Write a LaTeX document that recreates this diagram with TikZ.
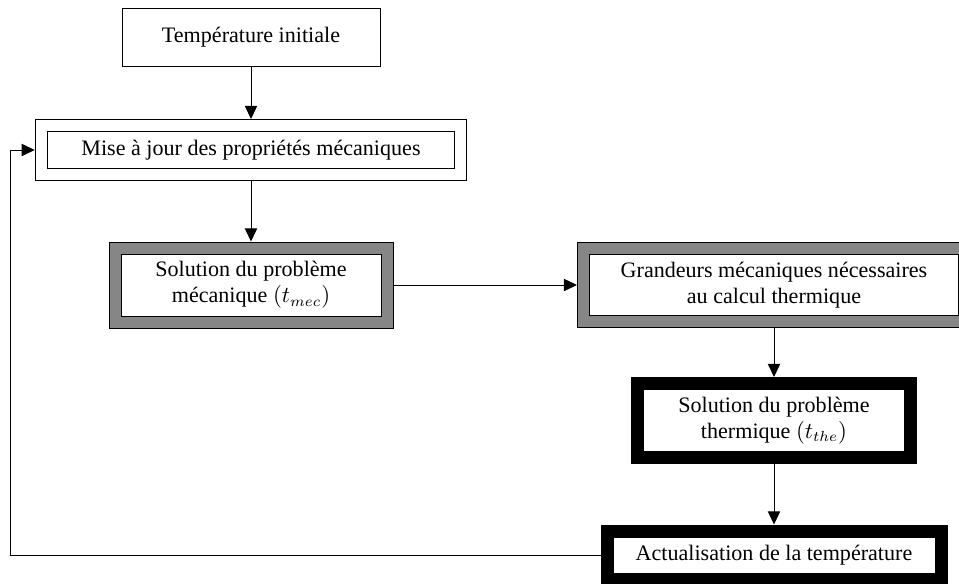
\documentclass[tikz,border=0pt]{standalone}
\usepackage{fontspec}
\setmainfont{Liberation Serif}
\usepackage{amsmath}
\usepackage{tikz}
\usetikzlibrary{
    positioning,
    arrows.meta,
}
\newdimen\px
\px=0.48pt
\tikzset{
    % Basic node styles
    step box/.style={rectangle, draw, line width=1\px, align=center,
                     font=\fontsize{10.6}{12.6}\selectfont, inner sep=0pt},
    plain box/.style={step box},
    white frame/.style={step box, double=white, double distance=11\px, outer sep=6.5\px},
    gray frame/.style={step box, double=gray!95, double distance=11\px, outer sep=6.5\px},
    black frame/.style={step box, double=black, double distance=11\px, outer sep=6.5\px},
    % Arrow styles
    arrow/.style={-{Triangle[length=6.3pt, width=5.9pt]}, line width=0.48pt},
}

\begin{document}
\begin{tikzpicture}[x=1\px, y=-1\px]
    \useasboundingbox (0,0) rectangle (959,584);
    \clip (0,0) rectangle (959,584);

    % Left column
    \node[plain box, minimum width=258\px, minimum height=58\px] (init) at (251, 37)
        {Température initiale};
    \node[white frame, minimum width=419.5\px, minimum height=49\px] (maj) at (251, 150)
        {Mise à jour des propriétés mécaniques};
    \node[gray frame, minimum width=272\px, minimum height=74\px] (meca) at (251, 285)
        {Solution du problème\\mécanique $(t_{mec})$};

    % Right column
    \node[gray frame, minimum width=381\px, minimum height=73\px] (grand) at (774, 285)
        {Grandeurs mécaniques nécessaires\\au calcul thermique};
    \node[black frame, minimum width=272.5\px, minimum height=74\px] (therm) at (774, 420.5)
        {Solution du problème\\thermique $(t_{the})$};
    \node[black frame, minimum width=334\px, minimum height=48\px] (actu) at (774, 555)
        {Actualisation de la température};

    \draw[arrow] (init) -- (maj);
    \draw[arrow] (maj) -- (meca);
    \draw[arrow] (meca) -- (grand);
    \draw[arrow] (grand) -- (therm);
    \draw[arrow] (therm) -- (actu);
    \draw[arrow] (actu.west) -- ++(-590, 0) |- (maj.west);
\end{tikzpicture}
\end{document}
